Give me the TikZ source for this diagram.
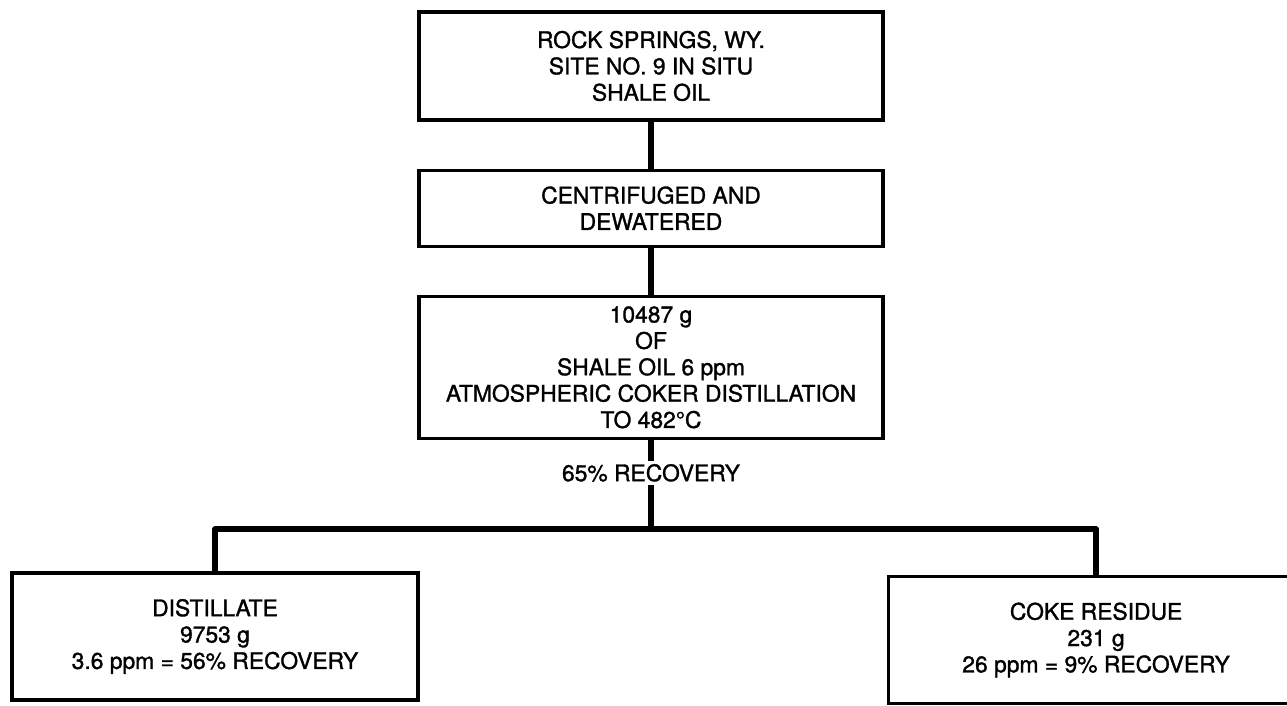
\documentclass[tikz,border=0pt]{standalone}
\usepackage{fontspec}
\setmainfont{TeX Gyre Heros}
\newfontfamily\labelfont{TeX Gyre Heros}[RawFeature={embolden=1.3}]
\usetikzlibrary{positioning,calc}
\tikzset{
  % Process box: ALL CAPS label, thick black border
  procbox/.style={draw, rectangle, line width=1.8pt, align=center,
                  minimum width=9.28cm, inner sep=2pt,
                  font=\labelfont\fontsize{13}{15}\selectfont},
  % Product box at the bottom
  prodbox/.style={procbox, minimum width=8.12cm, minimum height=2.54cm},
  % Heavy connector line
  link/.style={line width=3pt, line join=round},
  % Label sitting on a connector
  linklabel/.style={fill=white, inner sep=2pt, font=\labelfont\fontsize{13}{15}\selectfont}
}
\begin{document}
\begin{tikzpicture}

\useasboundingbox (0,0) rectangle (25.74,14.1);
\clip (0,0) rectangle (25.74,14.1);

% ============== FEED AND PRETREATMENT ==============
\node[procbox, minimum height=2.16cm] (feed) at (13.02,12.78)
  {ROCK SPRINGS, WY.\\SITE NO. 9 IN SITU\\SHALE OIL};
\node[procbox, minimum height=1.52cm, below=0.94cm of feed] (dewater)
  {CENTRIFUGED AND\\DEWATERED};
\node[procbox, minimum height=2.84cm, below=0.94cm of dewater] (coker)
  {10487 g\\OF\\SHALE OIL 6 ppm\\ATMOSPHERIC COKER DISTILLATION\\TO 482°C};

\draw[link] (feed) -- (dewater);
\draw[link] (dewater) -- (coker);

% ============== SPLIT ==============
\coordinate (split) at (13.02,3.52);
\draw[link] (coker) -- node[linklabel, pos=0.37] (recov) {65\% RECOVERY} (split);

% ============== PRODUCTS ==============
\node[prodbox] (distillate) at (4.3,1.37)
  {DISTILLATE\\9753 g\\3.6 ppm = 56\% RECOVERY};
% right box runs off the edge of the sheet
\node[prodbox, minimum width=8.3cm, anchor=west] (coke) at (17.74,1.30)
  {COKE RESIDUE\\231 g\\26 ppm = 9\% RECOVERY};

\draw[link] (distillate.north) |- (split) -| (coke.north);

\end{tikzpicture}
\end{document}
